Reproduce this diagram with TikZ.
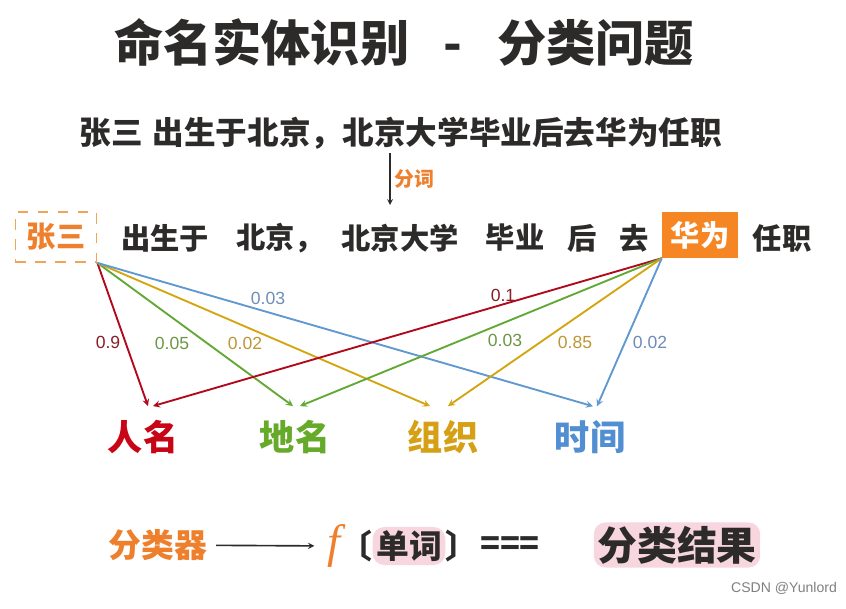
\documentclass[tikz,border=0pt]{standalone}
\usepackage{fontspec}
\setmainfont{Noto Sans CJK SC}
\newfontfamily\numfont{Liberation Sans}
\newfontfamily\ffont{Liberation Serif}
\newfontfamily\halffont[RawFeature={+halt}]{Noto Sans CJK SC}
\definecolor{ink}{RGB}{45,42,42}
\definecolor{orng}{RGB}{238,128,45}
\definecolor{boxorng}{RGB}{240,165,85}
\definecolor{hworng}{RGB}{246,134,36}
\definecolor{hlpink}{RGB}{247,214,224}
\definecolor{cred}{RGB}{178,8,28}
\definecolor{cgreen}{RGB}{98,168,52}
\definecolor{cgold}{RGB}{212,165,16}
\definecolor{cblue}{RGB}{96,152,208}
\definecolor{lred}{RGB}{135,30,40}
\definecolor{lgreen}{RGB}{110,150,70}
\definecolor{lgold}{RGB}{190,150,55}
\definecolor{lblue}{RGB}{110,140,185}
\definecolor{pred}{RGB}{200,5,22}
\definecolor{pgreen}{RGB}{102,170,42}
\definecolor{pgold}{RGB}{214,160,22}
\definecolor{pblue}{RGB}{82,142,210}
\tikzset{
  tok/.style={font=\fontsize{25}{25}\selectfont\bfseries, text=ink},
  cat/.style={font=\fontsize{30}{30}\selectfont\bfseries},
  prob/.style={font=\numfont\fontsize{15}{15}\selectfont},
  link/.style={->, line width=1.6pt},
  btm/.style={font=\fontsize{28}{28}\selectfont\bfseries, text=ink},
  brk/.style={font=\halffont\fontsize{28}{28}\selectfont\bfseries, text=ink, inner sep=0pt},
  hl/.style={fill=hlpink, rounded corners=10pt, inner sep=3pt},
}
\begin{document}
\begin{tikzpicture}[>=stealth, x=0.03cm, y=-0.03cm]
\useasboundingbox (0,0) rectangle (846,608);
% 标题
\node[font=\fontsize{42}{42}\selectfont\bfseries, text=ink] (title) at (404,42) {命名实体识别\hspace{0.7em}-\hspace{0.7em}分类问题};
% 原句
\node[tok, font=\fontsize{27}{27}\selectfont\bfseries] (sent) at (401,133) {张三\hspace{0.3em}出生于北京，北京大学毕业后去华为任职};
\coordinate (cut) at (390,205);
\draw[->, ink, line width=1.2pt] (sent.south -| cut) -- (cut) node[midway, right, text=orng, font=\fontsize{17}{17}\selectfont\bfseries] (seg) {分词};
% 分词结果
\node[tok, draw=boxorng, dash pattern=on 9pt off 8pt, line width=1.5pt, text=orng, minimum width=2.43cm, minimum height=1.5cm] (zs) at (56,237) {张三};
\node[tok, fill=hworng, text=white, minimum width=2.28cm, minimum height=1.38cm] (hw) at (700,235) {华为};
\foreach \x/\w [count=\i] in {165/出生于, 280/北京，, 400/北京大学, 515/毕业, 582/后, 634/去, 782/任职}
  \node[tok] (w\i) at (\x,238) {\w};
% 类别
\node[cat, text=pred] (person) at (143,437) {人名};
\node[cat, text=pgreen] (place) at (295,437) {地名};
\node[cat, text=pgold] (org) at (443,437) {组织};
\node[cat, text=pblue] (time) at (590,437) {时间};
\foreach \tg/\c/\a in {person/cred/5, place/cgreen/-2, org/cgold/-13, time/cblue/3}
  \draw[link, \c] (zs.south east) -- ([shift={(\a,-10)}]\tg.north);
\foreach \tg/\c/\a in {person/cred/10, place/cgreen/5, org/cgold/5, time/cblue/7}
  \draw[link, \c] (hw.south west) -- ([shift={(\a,-10)}]\tg.north);
% 概率
\foreach \x/\y/\c/\v [count=\i] in {108/342/lred/0.9, 172/343/lgreen/0.05, 245/343/lgold/0.02, 268/298/lblue/0.03, 503/295/lred/0.1, 505/340/lgreen/0.03, 575/342/lgold/0.85, 650/342/lblue/0.02}
  \node[prob, text=\c] (p\i) at (\x,\y) {\v};
% 分类器
\node[btm, text=orng] (clf) at (158,545) {分类器};
\node[font=\ffont\itshape\fontsize{40}{40}\selectfont, text=orng, inner sep=1pt] (fx) at (334,546) {f};
\draw[->, ink, line width=1.4pt, shorten <=4pt, shorten >=10pt] (clf) -- (fx);
\node[btm, hl] (word) at (409,546) {单词};
\node[brk, anchor=east] (lb) at (word.west) {〔};
\node[brk, anchor=west] (rb) at (word.east) {〕};
\node[btm] (eq) at (510,546) {===};
\node[btm, hl, font=\fontsize{34}{34}\selectfont\bfseries] (res) at (677,545) {分类结果};
\node[font=\numfont\fontsize{12}{12}\selectfont, text=gray] (mark) at (784,588) {CSDN @Yunlord};
\end{tikzpicture}
\end{document}
